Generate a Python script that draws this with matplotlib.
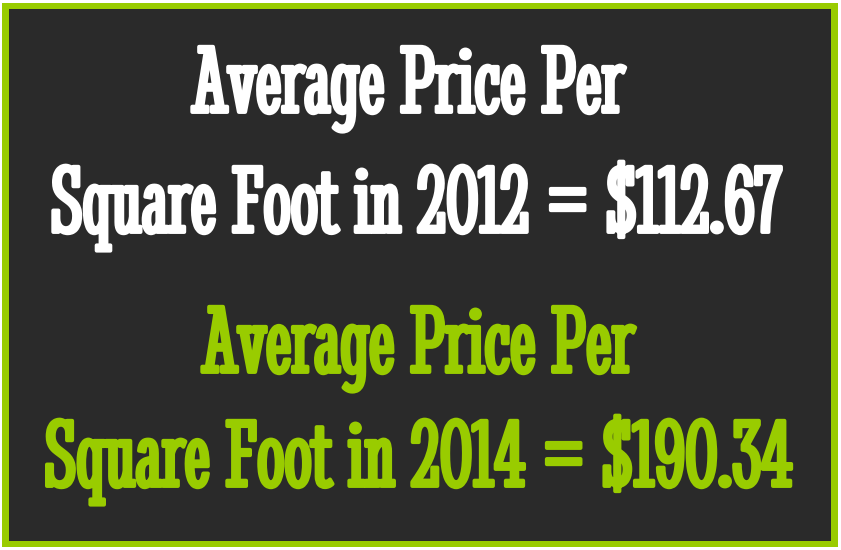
import matplotlib
matplotlib.use("Agg")
import matplotlib.pyplot as plt
import matplotlib.patches as patches
import matplotlib.patheffects as pe

# text lines of the graphic
lines = ["Average Price Per", "Square Foot in 2012 = $112.67",
         "Average Price Per", "Square Foot in 2014 = $190.34"]
line_colors = ["white", "white", "#99cc00", "#99cc00"]
baselines = [112, 232, 372, 486]
centers = [408, 416, 418, 419]

green = "#99cc00"
dark = "#2a2a2a"
font = ["Stint Ultra Condensed", "Liberation Serif"]

fig = plt.figure(figsize=(8.41, 5.5), dpi=100)
ax = fig.add_axes([0, 0, 1, 1])
ax.set_xlim(0, 841)
ax.set_ylim(550, 0)
ax.axis("off")

# green frame with dark panel inside
ax.add_patch(patches.Rectangle((2, 3), 836, 544, color=green, lw=0))
ax.add_patch(patches.Rectangle((9, 9), 822, 532, color=dark, lw=0))

for txt, col, yb, xc in zip(lines, line_colors, baselines, centers):
    ax.text(xc, yb, txt, color=col, fontsize=70, family=font,
            ha="center", va="baseline",
            path_effects=[pe.withStroke(linewidth=2.8, foreground=col)])

fig.savefig("out.png", dpi=100)
